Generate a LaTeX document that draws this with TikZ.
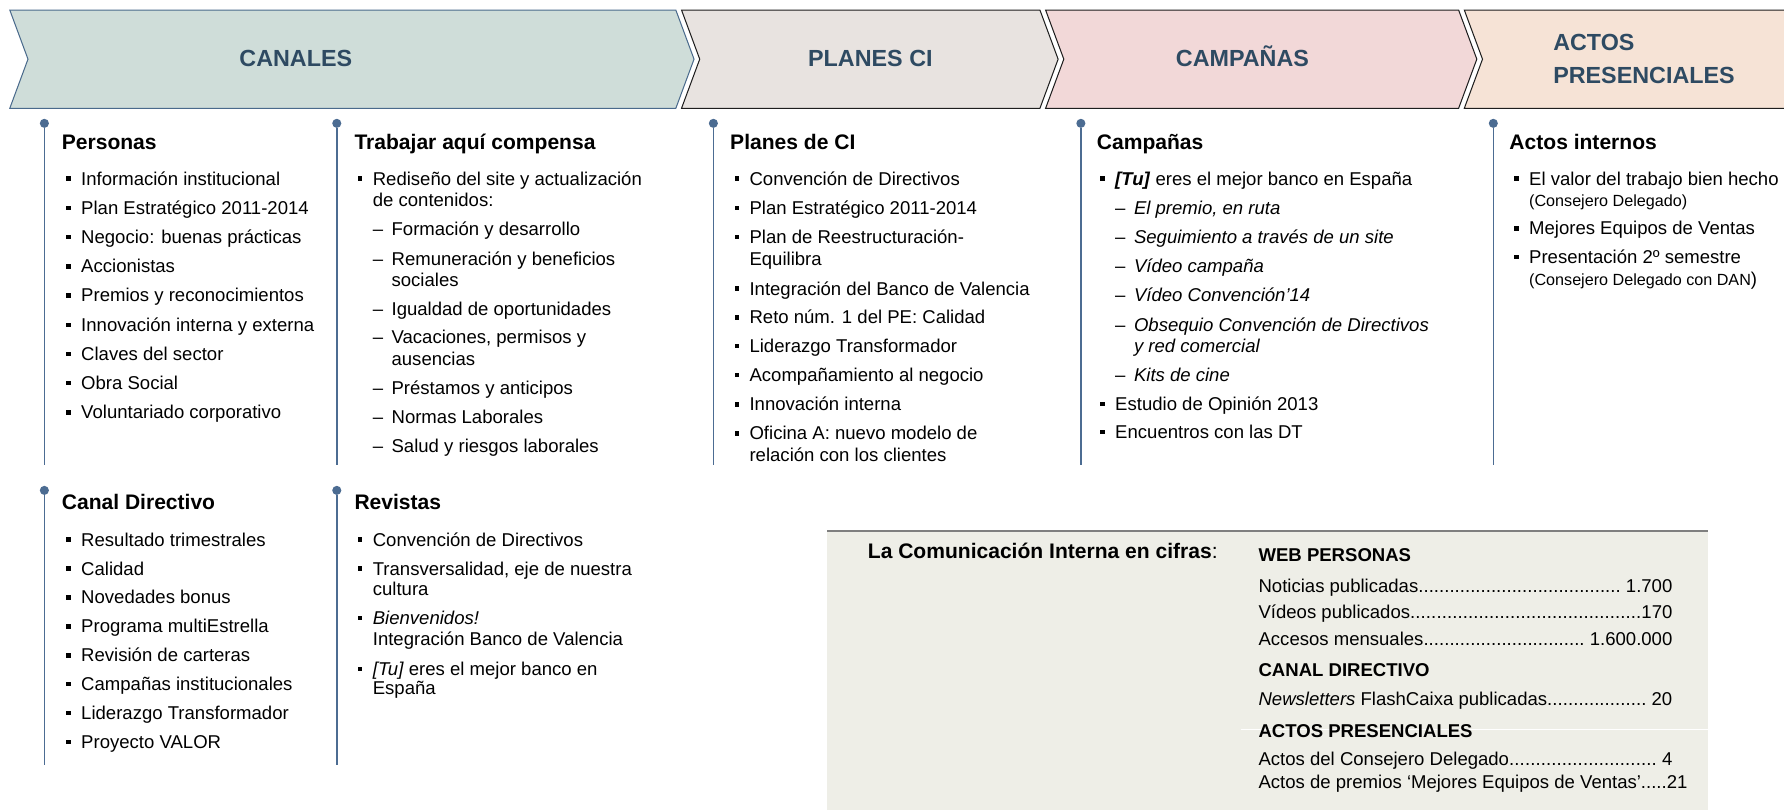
\documentclass[tikz,border=0pt]{standalone}
\usepackage{fontspec}
\setmainfont{Liberation Sans}
\definecolor{hdr}{HTML}{2E4A62}
\definecolor{linec}{HTML}{4C6C92}
\definecolor{cA}{HTML}{CFDDD9}
\definecolor{cB}{HTML}{E8E3E0}
\definecolor{cC}{HTML}{F2D8D8}
\definecolor{cD}{HTML}{F6E3D6}
\definecolor{bordA}{HTML}{4A6A8C}
\definecolor{bordB}{HTML}{1E1E1E}
\definecolor{boxfill}{HTML}{EEEEE7}
\definecolor{boxline}{HTML}{7F7F7F}
\newcommand\bline[4]{\node[bul] (#1s) at (#2-11,#3-5.6) {};\node[body] (#1) at (#2,#3) {#4};}
\newcommand\dline[4]{\node[body] (#1d) at (#2,#3) {--};\node[body] (#1) at (#2+16.5,#3) {#4};}
\newcommand\contline[4]{\node[body] (#1) at (#2,#3) {#4};}
\newcommand\leadrow[2]{\hbox to 363.6pt{#1\xleaders\hbox{.}\hfill#2}}
\begin{document}
\begin{tikzpicture}[x=1pt,y=-1pt,
  head/.style={font=\fontsize{18.5}{22}\selectfont\bfseries, anchor=base west, inner sep=0},
  body/.style={font=\fontsize{16.3}{19}\selectfont, anchor=base west, inner sep=0},
  small/.style={font=\fontsize{14.2}{16}\selectfont, anchor=base west, inner sep=0},
  ban/.style={font=\fontsize{20.5}{24}\selectfont\bfseries, text=hdr, inner sep=0},
  bul/.style={rectangle, fill=black, minimum size=3.8pt, inner sep=0},
  dotn/.style={circle, fill=linec, minimum size=8pt, inner sep=0},
  vline/.style={draw=linec, line width=1.3pt},
  chevA/.style={fill=cA, draw=bordA, line width=0.9pt},
  chevB/.style={draw=bordB, line width=0.9pt},
  tbl/.style={font=\fontsize{16.3}{19}\selectfont, anchor=base west, inner sep=0},
  tblh/.style={font=\fontsize{16.3}{19}\selectfont\bfseries, anchor=base west, inner sep=0}]
\useasboundingbox (0,0) rectangle (1568,712);
\clip (0,0) rectangle (1568,712);
\fill[white] (0,0) rectangle (1568,712);
% ---- chevrons
\draw[chevA] (8.6,8.8) -- (594,8.8) -- (610,52) -- (594,95.2) -- (8.6,95.2) -- (24.6,52) -- cycle;
\draw[chevB, fill=cB] (599,8.8) -- (914,8.8) -- (930,52) -- (914,95.2) -- (599,95.2) -- (615,52) -- cycle;
\draw[chevB, fill=cC] (919,8.8) -- (1282,8.8) -- (1298,52) -- (1282,95.2) -- (919,95.2) -- (935,52) -- cycle;
\draw[chevB, fill=cD] (1287,8.8) -- (1600,8.8) -- (1616,52) -- (1600,95.2) -- (1287,95.2) -- (1303,52) -- cycle;
\node[ban, anchor=base] (hA) at (260,58.6) {CANALES};
\node[ban, anchor=base] (hB) at (765,58.6) {PLANES CI};
\node[ban, anchor=base] (hC) at (1092,58.6) {CAMPAÑAS};
\node[ban, anchor=base west] (hD1) at (1365,44) {ACTOS};
\node[ban, anchor=base west] (hD2) at (1365,73.2) {PRESENCIALES};
% ---- timeline lines
\foreach \n/\x in {a/39,b/296,c/627,d/950,e/1312.5}{
  \coordinate (end\n) at (\x,408.7);
  \node[dotn] (dot\n) at (\x,108.4) {};
  \draw[vline] (dot\n) -- (end\n);
}
\foreach \n/\x in {f/39,g/296}{
  \coordinate (end\n) at (\x,672);
  \node[dotn] (dot\n) at (\x,431) {};
  \draw[vline] (dot\n) -- (end\n);
}
% ---- Personas
\node[head] (Hpers) at (54.2,131.2) {Personas};
\bline{a1}{71.2}{162.6}{Información institucional}
\bline{a2}{71.2}{188.3}{Plan Estratégico 2011-2014}
\bline{a3}{71.2}{214.0}{Negocio: buenas prácticas}
\bline{a4}{71.2}{239.7}{Accionistas}
\bline{a5}{71.2}{265.4}{Premios y reconocimientos}
\bline{a6}{71.2}{291.1}{Innovación interna y externa}
\bline{a7}{71.2}{316.8}{Claves del sector}
\bline{a8}{71.2}{342.5}{Obra Social}
\bline{a9}{71.2}{368.2}{Voluntariado corporativo}
% ---- Trabajar aqui compensa
\node[head] (Htrab) at (311.4,131.2) {Trabajar aquí compensa};
\bline{b1}{327.5}{162.6}{Rediseño del site y actualización}
\contline{b1c}{327.5}{181.6}{de contenidos:}
\dline{b2}{327.5}{207.4}{Formación y desarrollo}
\dline{b3}{327.5}{233.0}{Remuneración y beneficios}
\contline{b3c}{344.0}{252.0}{sociales}
\dline{b4}{327.5}{277.0}{Igualdad de oportunidades}
\dline{b5}{327.5}{302.0}{Vacaciones, permisos y}
\contline{b5c}{344.0}{321.0}{ausencias}
\dline{b6}{327.5}{346.9}{Préstamos y anticipos}
\dline{b7}{327.5}{372.2}{Normas Laborales}
\dline{b8}{327.5}{397.8}{Salud y riesgos laborales}
% ---- Planes de CI
\node[head] (Hplan) at (641.6,131.2) {Planes de CI};
\bline{c1}{658.6}{162.6}{Convención de Directivos}
\bline{c2}{658.6}{188.4}{Plan Estratégico 2011-2014}
\bline{c3}{658.6}{213.9}{Plan de Reestructuración-}
\contline{c3c}{658.6}{233.0}{Equilibra}
\bline{c4}{658.6}{259.3}{Integración del Banco de Valencia}
\bline{c5}{658.6}{284.6}{Reto núm. 1 del PE: Calidad}
\bline{c6}{658.6}{309.9}{Liderazgo Transformador}
\bline{c7}{658.6}{335.4}{Acompañamiento al negocio}
\bline{c8}{658.6}{361.0}{Innovación interna}
\bline{c9}{658.6}{386.7}{Oficina A: nuevo modelo de}
\contline{c9c}{658.6}{405.8}{relación con los clientes}
% ---- Campanas
\node[head] (Hcamp) at (963.9,131.2) {Campañas};
\bline{d1}{980}{162.6}{\textbf{\textit{[Tu]}} eres el mejor banco en España}
\dline{d2}{980}{188.4}{\textit{El premio, en ruta}}
\dline{d3}{980}{213.9}{\textit{Seguimiento a través de un site}}
\dline{d4}{980}{239.6}{\textit{Vídeo campaña}}
\dline{d5}{980}{265.3}{\textit{Vídeo Convención’14}}
\dline{d6}{980}{291.0}{\textit{Obsequio Convención de Directivos}}
\contline{d6c}{996.5}{310.0}{\textit{y red comercial}}
\dline{d7}{980}{335.4}{\textit{Kits de cine}}
\bline{d8}{980}{360.4}{Estudio de Opinión 2013}
\bline{d9}{980}{385.2}{Encuentros con las DT}
% ---- Actos internos
\node[head] (Hact) at (1326.5,131.2) {Actos internos};
\bline{e1}{1343.8}{162.6}{El valor del trabajo bien hecho}
\node[small] (e1c) at (1343.8,181.6) {(Consejero Delegado)};
\bline{e2}{1343.8}{206.5}{Mejores Equipos de Ventas}
\bline{e3}{1343.8}{231.4}{Presentación 2º semestre}
\node[small] (e3c) at (1343.8,250.5) {(Consejero Delegado con DAN{\fontsize{16.3}{19}\selectfont)}};
% ---- Canal Directivo
\node[head] (Hcan) at (54.2,448.2) {Canal Directivo};
\bline{f1}{71.2}{479.9}{Resultado trimestrales}
\bline{f2}{71.2}{505.4}{Calidad}
\bline{f3}{71.2}{530.8}{Novedades bonus}
\bline{f4}{71.2}{556.2}{Programa multiEstrella}
\bline{f5}{71.2}{581.6}{Revisión de carteras}
\bline{f6}{71.2}{607.0}{Campañas institucionales}
\bline{f7}{71.2}{632.4}{Liderazgo Transformador}
\bline{f8}{71.2}{657.8}{Proyecto VALOR}
% ---- Revistas
\node[head] (Hrev) at (311.4,448.2) {Revistas};
\bline{g1}{327.5}{479.9}{Convención de Directivos}
\bline{g2}{327.5}{505.4}{Transversalidad, eje de nuestra}
\contline{g2c}{327.5}{523.2}{cultura}
\bline{g3}{327.5}{548.7}{\textit{Bienvenidos!}}
\contline{g3c}{327.5}{566.9}{Integración Banco de Valencia}
\bline{g4}{327.5}{593.3}{\textit{[Tu]} eres el mejor banco en}
\contline{g4c}{327.5}{610.8}{España}
% ---- cifras box
\fill[boxfill] (727,467) rectangle (1501.6,712);
\draw[boxline, line width=2pt] (727,467) -- (1501.6,467);
\draw[white, line width=0.8pt] (1091,641) -- (1501.6,641);
\node[head] (Hcif) at (762.6,491.3) {La Comunicación Interna en cifras\mdseries:};
\node[tblh] (w0) at (1106,493.6) {WEB PERSONAS};
\node[tbl] (w1) at (1106,520.9) {\leadrow{Noticias publicadas}{\ 1.700}};
\node[tbl] (w2) at (1106,544.0) {\leadrow{Vídeos publicados}{170}};
\node[tbl] (w3) at (1106,566.9) {\leadrow{Accesos mensuales}{\ 1.600.000}};
\node[tblh] (k0) at (1106,594.7) {CANAL DIRECTIVO};
\node[tbl] (k1) at (1106,620.5) {\leadrow{\textit{Newsletters} FlashCaixa publicadas}{\ 20}};
\node[tblh] (p0) at (1106,648.0) {ACTOS PRESENCIALES};
\node[tbl] (p1) at (1106,672.4) {\leadrow{Actos del Consejero Delegado}{\ 4}};
\node[tbl] (p2) at (1106,692.9) {Actos de premios ‘Mejores Equipos de Ventas’.....21};
\end{tikzpicture}
\end{document}
